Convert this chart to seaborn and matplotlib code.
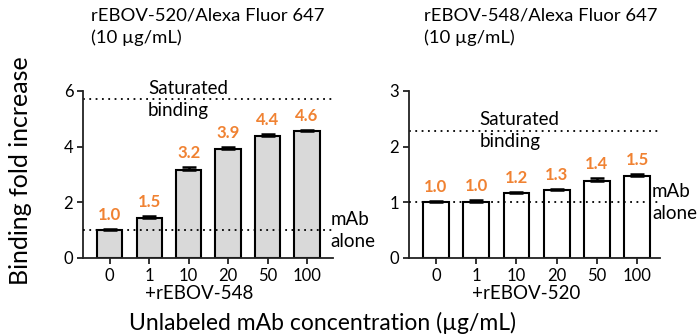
import pandas as pd
import matplotlib
matplotlib.use("Agg")
import matplotlib.pyplot as plt
import matplotlib.transforms as mtransforms
import seaborn as sns

# data
conc = ["0", "1", "10", "20", "50", "100"]

fold_520 = [1.0, 1.45, 3.15, 3.9, 4.4, 4.57]
err_520 = [0.04, 0.05, 0.12, 0.08, 0.06, 0.04]
lab_520 = ["1.0", "1.5", "3.2", "3.9", "4.4", "4.6"]

fold_548 = [1.0, 1.0, 1.16, 1.22, 1.38, 1.47]
err_548 = [0.03, 0.05, 0.02, 0.02, 0.05, 0.04]
lab_548 = ["1.0", "1.0", "1.2", "1.3", "1.4", "1.5"]

sat_520 = 5.7
sat_548 = 2.29
alone = 1.0

titles = ["rEBOV-520/Alexa Fluor 647\n(10 µg/mL)", "rEBOV-548/Alexa Fluor 647\n(10 µg/mL)"]
competitors = ["+rEBOV-548", "+rEBOV-520"]

ORANGE = "#F08232"

sns.set_theme(style="ticks")
plt.rcParams["font.family"] = ["Lato", "DejaVu Sans"]
plt.rcParams["text.color"] = "black"
plt.rcParams["xtick.color"] = "black"
plt.rcParams["ytick.color"] = "black"

fig = plt.figure(figsize=(6.98, 3.35), dpi=100)
ax1 = fig.add_axes([0.1189, 0.2299, 0.3582, 0.4985])
ax2 = fig.add_axes([0.586, 0.2299, 0.3596, 0.4985])

panels = [
    (ax1, fold_520, err_520, lab_520, "#d9d9d9", sat_520, 6, [0, 2, 4, 6], (-0.68, 5.66), 0.26, 0.99),
    (ax2, fold_548, err_548, lab_548, "white", sat_548, 3, [0, 1, 2, 3], (-0.67, 5.57), 0.28, 0.968),
]

for ax, vals, errs, labs, fill, sat, ymax, yt, xl, sat_x, alone_x in panels:
    df = pd.DataFrame({"conc": conc, "fold": vals})
    sns.barplot(data=df, x="conc", y="fold", ax=ax, color=fill, width=0.64,
                edgecolor="black", linewidth=1.5, errorbar=None, saturation=1)
    xs = list(range(len(conc)))
    # one-sided error bars (upper only)
    ax.errorbar(xs, vals, yerr=[[0] * len(errs), errs], fmt="none", ecolor="black",
                elinewidth=1.8, capsize=4.7, capthick=1.8, zorder=3)
    for x, v, e, t in zip(xs, vals, errs, labs):
        ax.annotate(t, (x, v + e), xytext=(0, 10), textcoords="offset points",
                    ha="center", va="center", color=ORANGE, fontsize=12, fontweight="bold")

    ax.axhline(sat, color="black", ls=(0, (1, 2.5)), lw=1.3, zorder=1)
    ax.axhline(alone, color="black", ls=(0, (1, 2.5)), lw=1.3, zorder=4)
    tr = mtransforms.blended_transform_factory(ax.transAxes, ax.transData)
    ax.text(sat_x, sat, "Saturated\nbinding", transform=tr, ha="left", va="center",
            fontsize=13.5, linespacing=1.35)
    ax.text(alone_x, alone, "mAb\nalone", transform=tr, ha="left", va="center",
            fontsize=13.5, linespacing=1.35, clip_on=False)

    ax.set_ylim(0, ymax)
    ax.set_yticks(yt)
    ax.set_xlim(*xl)
    ax.set_xlabel("")
    ax.set_ylabel("")
    ax.tick_params(axis="both", labelsize=12, width=1.3, length=4, color="#222222", pad=3)
    sns.despine(ax=ax)
    for s in ["left", "bottom"]:
        ax.spines[s].set_linewidth(1.3)
        ax.spines[s].set_color("#222222")

fig.text(0.1304, 0.92, titles[0], ha="left", va="center", fontsize=13.3, linespacing=1.4)
fig.text(0.6074, 0.92, titles[1], ha="left", va="center", fontsize=13.3, linespacing=1.4)

fig.text(0.285, 0.125, competitors[0], ha="center", va="center", fontsize=13.5)
fig.text(0.754, 0.125, competitors[1], ha="center", va="center", fontsize=13.5)

fig.text(0.03, 0.49, "Binding fold increase", rotation=90, ha="center", va="center", fontsize=18)
fig.text(0.462, 0.035, "Unlabeled mAb concentration (µg/mL)", ha="center", va="center", fontsize=16.5)

fig.savefig("out.png", dpi=100)
